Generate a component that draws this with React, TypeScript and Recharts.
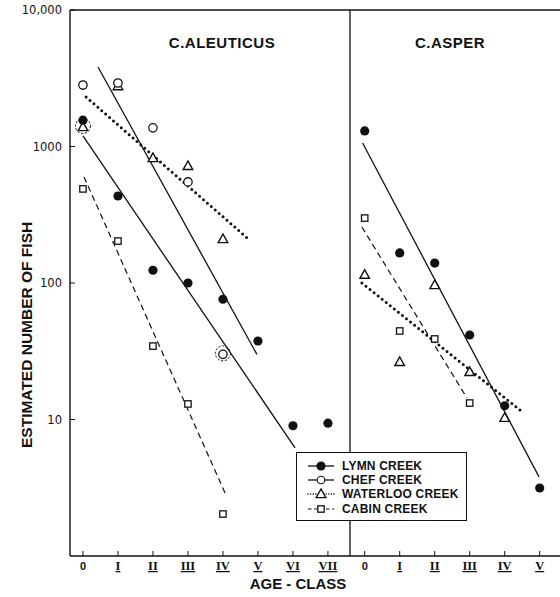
import React from 'react';
import { ComposedChart, Line, Scatter, XAxis, YAxis, ReferenceLine } from 'recharts';

// ---------- data ----------
const ALEUTICUS_AGES = ['0', 'I', 'II', 'III', 'IV', 'V', 'VI', 'VII'];
const ASPER_AGES = ['0', 'I', 'II', 'III', 'IV', 'V'];
const ASPER_OFFSET = 8.05; // x position of C. asper age 0 on the shared axis
const PANEL_DIVIDER = 7.63;
const Y_TICKS = [10, 100, 1000, 10000];
const SERIES_NAMES = ['LYMN CREEK', 'CHEF CREEK', 'WATERLOO CREEK', 'CABIN CREEK'];

// C. aleuticus observed numbers by age-class (0, I, II, ...)
const aleuticusLymn = [1560, 434, 124, 100, 76, 37.6, 9.0, 9.4];
const aleuticusChef = [2820, 2920, 1370, 550, 30];
const aleuticusWaterloo = [1390, 2770, 824, 720, 210];
const aleuticusCabin = [489, 203, 34.5, 13.0, 2.03];

// C. asper observed numbers by age-class
const asperLymn = [1300, 166, 140, 41.6, 12.6, 3.15];
const asperWaterloo = [115, 26.4, 96.7, 22.3, 10.3];
const asperCabin = [299, 44.5, 38.9, 13.2];

// ringed (overlapping) observations: [age, value]
const aleuticusRinged: [number, number][] = [[0, 1390], [4, 30]];

// fitted regression lines: [age, value] end points
const aleuticusLymnFit: [number, number][] = [[0, 1194], [6.06, 6.2]];
const aleuticusChefFit: [number, number][] = [[0.43, 3820], [4.97, 30]];
const aleuticusWaterlooFit: [number, number][] = [[0.09, 2306], [4.69, 214]];
const aleuticusCabinFit: [number, number][] = [[0.03, 598], [4.06, 2.9]];
const asperLymnFit: [number, number][] = [[-0.06, 1061], [4.98, 3.8]];
const asperWaterlooFit: [number, number][] = [[-0.08, 100], [4.44, 11.7]];
const asperCabinFit: [number, number][] = [[-0.08, 257], [2.92, 14.4]];

// ---------- helpers ----------
const pts = (vals: number[], off: number) => vals.map((v, i) => ({ x: off + i, y: v }));
const fit = (pairs: [number, number][], off: number) => pairs.map(([a, v]) => ({ x: off + a, y: v }));

const X_TICKS = [
  ...ALEUTICUS_AGES.map((_, i) => i),
  ...ASPER_AGES.map((_, i) => ASPER_OFFSET + i),
];

const SANS = 'Liberation Sans, Arial, sans-serif';
const INK = '#111';

// ---------- marker shapes ----------
const FilledCircle = (p: any) => <circle cx={p.cx} cy={p.cy} r={4.6} fill={INK} />;
const OpenCircle = (p: any) => (
  <circle cx={p.cx} cy={p.cy} r={4.2} fill="#fff" stroke={INK} strokeWidth={1.3} />
);
const OpenTriangle = (p: any) => (
  <polygon
    points={`${p.cx},${p.cy - 5} ${p.cx - 4.8},${p.cy + 3.6} ${p.cx + 4.8},${p.cy + 3.6}`}
    fill="#fff"
    stroke={INK}
    strokeWidth={1.4}
  />
);
const OpenSquare = (p: any) => (
  <rect x={p.cx - 3.2} y={p.cy - 3.2} width={6.4} height={6.4} fill="#fff" stroke={INK} strokeWidth={1.3} />
);
const Ring = (p: any) => (
  <circle cx={p.cx} cy={p.cy - 1} r={7.5} fill="none" stroke={INK} strokeWidth={1} strokeDasharray="2.2 1.6" />
);

const SOLID = { stroke: INK, strokeWidth: 1.3 };
const DOTTED = { stroke: INK, strokeWidth: 3, strokeDasharray: '0 5.2', strokeLinecap: 'round' as const };
const DASHED = { stroke: INK, strokeWidth: 1.2, strokeDasharray: '6 4' };

// ---------- ticks ----------
const XTick = (props: any) => {
  const { x, y, payload } = props;
  const v = payload.value;
  const label = v < PANEL_DIVIDER ? ALEUTICUS_AGES[Math.round(v)] : ASPER_AGES[Math.round(v - ASPER_OFFSET)];
  const roman = label !== '0';
  return (
    <g>
      <line x1={x} x2={x} y1={y} y2={y - 5} stroke={INK} strokeWidth={1} />
      <text
        x={x}
        y={y + 14}
        textAnchor="middle"
        fontFamily={roman ? 'Liberation Serif, serif' : SANS}
        fontWeight="bold"
        fontSize={roman ? 12.5 : 11}
        fill={INK}
        style={roman ? { textDecoration: 'underline' } : undefined}
      >
        {label}
      </text>
    </g>
  );
};

const YTick = (props: any) => {
  const { x, y, payload } = props;
  const v = payload.value;
  const label = v >= 10000 ? v.toLocaleString('en-US') : String(v);
  return (
    <g>
      <line x1={x} x2={x + 5} y1={y} y2={y} stroke={INK} strokeWidth={1} />
      <text x={x - 8} y={y + 4} textAnchor="end" fontFamily="DejaVu Sans, sans-serif" fontSize={11.5} fill={INK}>
        {label}
      </text>
    </g>
  );
};

// ---------- legend ----------
const LegendSymbol = ({ idx }: { idx: number }) => {
  const lineStyles = [SOLID, SOLID, { ...DOTTED, strokeWidth: 1.6, strokeDasharray: '0 2.6' }, { ...DASHED, strokeDasharray: '3.5 2.5' }];
  const shapes = [FilledCircle, OpenCircle, OpenTriangle, OpenSquare];
  const Shape = shapes[idx];
  return (
    <svg width={28} height={12} style={{ display: 'block' }}>
      <line x1={1} x2={27} y1={6} y2={6} {...(lineStyles[idx] as any)} />
      <g transform={idx === 1 ? 'translate(14 6) scale(0.9) translate(-14 -6)' : undefined}>
        <Shape cx={14} cy={6} />
      </g>
    </svg>
  );
};

const LegendBox = () => (
  <div
    style={{
      position: 'absolute',
      left: 296,
      top: 452,
      border: `1.4px solid ${INK}`,
      background: '#fff',
      padding: '6px 0 5px 10px',
      width: 171,
      height: 69,
      boxSizing: 'border-box',
    }}
  >
    {SERIES_NAMES.map((n, i) => (
      <div key={n} style={{ display: 'flex', alignItems: 'center', height: 14.2 }}>
        <LegendSymbol idx={i} />
        <span
          style={{
            marginLeft: 7,
            fontFamily: SANS,
            fontWeight: 'bold',
            fontSize: 12,
            color: INK,
            letterSpacing: 0.2,
            lineHeight: '14px',
          }}
        >
          {n}
        </span>
      </div>
    ))}
  </div>
);

export default function App() {
  return (
    <div style={{ position: 'absolute', left: 0, top: 0, width: 560, height: 597, background: '#fff' }}>
      <ComposedChart width={560} height={597} margin={{ top: 10, right: 0, left: 0, bottom: 0 }}>
        <XAxis
          type="number"
          dataKey="x"
          domain={[-0.37, 13.63]}
          ticks={X_TICKS}
          tick={<XTick />}
          tickLine={false}
          tickSize={0}
          tickMargin={0}
          height={41}
          allowDataOverflow
          interval={0}
          axisLine={{ stroke: INK, strokeWidth: 1.4 }}
        />
        <YAxis
          type="number"
          dataKey="y"
          scale="log"
          domain={[1, 10000]}
          ticks={Y_TICKS}
          tick={<YTick />}
          tickLine={false}
          tickSize={0}
          tickMargin={0}
          width={70}
          allowDataOverflow
          interval={0}
          axisLine={{ stroke: INK, strokeWidth: 1.4 }}
        />
        <ReferenceLine y={10000} stroke={INK} strokeWidth={1.4} />
        <ReferenceLine x={PANEL_DIVIDER} stroke={INK} strokeWidth={1.3} />

        {/* regression lines */}
        <Line data={fit(aleuticusLymnFit, 0)} dataKey="y" dot={false} {...SOLID} isAnimationActive={false} />
        <Line data={fit(aleuticusChefFit, 0)} dataKey="y" dot={false} {...SOLID} isAnimationActive={false} />
        <Line data={fit(aleuticusWaterlooFit, 0)} dataKey="y" dot={false} {...DOTTED} isAnimationActive={false} />
        <Line data={fit(aleuticusCabinFit, 0)} dataKey="y" dot={false} {...DASHED} isAnimationActive={false} />
        <Line data={fit(asperLymnFit, ASPER_OFFSET)} dataKey="y" dot={false} {...SOLID} isAnimationActive={false} />
        <Line data={fit(asperWaterlooFit, ASPER_OFFSET)} dataKey="y" dot={false} {...DOTTED} isAnimationActive={false} />
        <Line data={fit(asperCabinFit, ASPER_OFFSET)} dataKey="y" dot={false} {...DASHED} isAnimationActive={false} />

        {/* observations */}
        <Scatter data={pts(aleuticusCabin, 0)} dataKey="y" shape={OpenSquare} isAnimationActive={false} />
        <Scatter data={pts(asperCabin, ASPER_OFFSET)} dataKey="y" shape={OpenSquare} isAnimationActive={false} />
        <Scatter data={pts(aleuticusWaterloo, 0)} dataKey="y" shape={OpenTriangle} isAnimationActive={false} />
        <Scatter data={pts(asperWaterloo, ASPER_OFFSET)} dataKey="y" shape={OpenTriangle} isAnimationActive={false} />
        <Scatter data={pts(aleuticusChef, 0)} dataKey="y" shape={OpenCircle} isAnimationActive={false} />
        <Scatter data={pts(aleuticusLymn, 0)} dataKey="y" shape={FilledCircle} isAnimationActive={false} />
        <Scatter data={pts(asperLymn, ASPER_OFFSET)} dataKey="y" shape={FilledCircle} isAnimationActive={false} />
        <Scatter
          data={aleuticusRinged.map(([a, v]) => ({ x: a, y: v }))}
          dataKey="y"
          shape={Ring}
          isAnimationActive={false}
        />
      </ComposedChart>

      <LegendBox />

      <svg
        width={560}
        height={597}
        style={{ position: 'absolute', left: 0, top: 0, pointerEvents: 'none' }}
      >
        <text x={222} y={48} textAnchor="middle" fontFamily={SANS} fontWeight="bold" fontSize={15} letterSpacing={0.5} fill={INK}>
          C.ALEUTICUS
        </text>
        <text x={450} y={48} textAnchor="middle" fontFamily={SANS} fontWeight="bold" fontSize={15} letterSpacing={0.5} fill={INK}>
          C.ASPER
        </text>
        <text x={298} y={589} textAnchor="middle" fontFamily={SANS} fontWeight="bold" fontSize={15} fill={INK}>
          AGE - CLASS
        </text>
        <text
          x={32}
          y={448}
          transform="rotate(-90 32 448)"
          textAnchor="start"
          fontFamily={SANS}
          fontWeight="bold"
          fontSize={15.5}
          fill={INK}
        >
          ESTIMATED NUMBER OF FISH
        </text>
      </svg>
    </div>
  );
}
